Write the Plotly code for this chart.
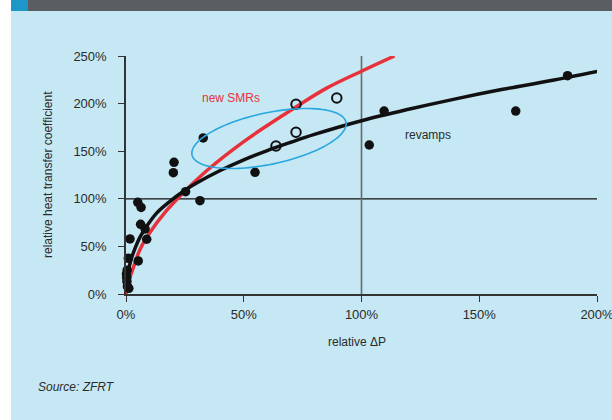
import plotly.graph_objects as go
import numpy as np

# ---- data ----
revamp_x = [0.5, 0.2, 0.3, 0.4, 0.6, 1.2, 1.0, 1.7, 5.2, 8.8, 8.1, 6.2, 5.0, 6.4, 25.3, 31.4,
            20.1, 20.4, 32.8, 54.8, 103.3, 109.6, 165.5, 187.5]
revamp_y = [25, 21, 17, 13, 8, 6, 37.5, 57.8, 34.7, 57.5, 68.3, 73.2, 96.3, 90.9, 107.5, 98,
            127.4, 138.3, 163.9, 127.8, 156.5, 192.2, 192.2, 229.3]
smr_x = [63.7, 72.2, 72.2, 89.5]
smr_y = [155.5, 169.9, 199.3, 205.9]
revamp_fit_x = [0, 0.5, 1, 2, 4, 6, 9, 13, 18, 25, 30, 40, 50, 60, 70, 80, 100, 120, 140, 160, 180, 200.4]
revamp_fit_y = [4, 15, 24, 35, 49, 60, 72, 85, 96, 109, 116.6, 129.7, 141, 150.7, 159.4, 167.6, 182, 194, 205, 215, 224, 234]
smr_fit_x = [0, 1, 3, 6, 10, 17, 25, 35, 50, 60, 72.5, 85, 100, 114]
smr_fit_y = [0, 12, 27, 47, 64, 87, 108, 131, 160, 177, 197, 216, 234, 250]
x_ticks = [0, 50, 100, 150, 200]
x_labels = ["0%", "50%", "100%", "150%", "200%"]
y_ticks = [0, 50, 100, 150, 200, 250]
y_labels = ["0%", "50%", "100%", "150%", "200%", "250%"]

# ---- geometry helpers ----
W, H = 612, 420
L, R, T, B = 126, 597, 56, 294
XR, YR = (0, 200), (0, 250)


def px2x(px):
    return XR[0] + (px - L) / (R - L) * (XR[1] - XR[0])


def py2y(py):
    return YR[0] + (B - py) / (B - T) * (YR[1] - YR[0])


def pxp(px):
    return (px - L) / (R - L)


def pyp(py):
    return (B - py) / (B - T)


FONT = "Liberation Sans, Arial, sans-serif"
TXT = "#2b2b2b"

fig = go.Figure()

fig.add_trace(go.Scatter(x=smr_fit_x, y=smr_fit_y, mode="lines", line=dict(color="#e8313a", width=3.5, shape="spline"),
                         cliponaxis=False, hoverinfo="skip"))
fig.add_trace(go.Scatter(x=revamp_fit_x, y=revamp_fit_y, mode="lines", line=dict(color="#111111", width=3.5, shape="spline"),
                         cliponaxis=False, hoverinfo="skip"))
fig.add_trace(go.Scatter(x=revamp_x, y=revamp_y, mode="markers",
                         marker=dict(color="#111111", size=9.5, line=dict(width=0)), cliponaxis=False))
fig.add_trace(go.Scatter(x=smr_x, y=smr_y, mode="markers",
                         marker=dict(color="rgba(0,0,0,0)", size=9.5, line=dict(color="#111111", width=2)), cliponaxis=False))

# ellipse (pixel space)
cx, cy, ea, eb, ang = 269, 138.5, 78.7, 25.7, np.deg2rad(12)
t = np.linspace(0, 2 * np.pi, 120)
ex = cx + ea * np.cos(t) * np.cos(ang) + eb * np.sin(t) * np.sin(ang)
ey = cy - ea * np.cos(t) * np.sin(ang) + eb * np.sin(t) * np.cos(ang)
path = "M " + " L ".join(f"{px2x(a):.3f},{py2y(b):.3f}" for a, b in zip(ex, ey)) + " Z"

shapes = [
    # white strip at left
    dict(type="rect", xref="paper", yref="paper", x0=pxp(0), x1=pxp(11), y0=pyp(H), y1=pyp(0),
         fillcolor="white", line=dict(width=0), layer="below"),
    # header bar
    dict(type="rect", xref="paper", yref="paper", x0=pxp(11), x1=pxp(W), y0=pyp(11), y1=pyp(0),
         fillcolor="#5a5e62", line=dict(width=0), layer="below"),
    dict(type="rect", xref="paper", yref="paper", x0=pxp(11), x1=pxp(28), y0=pyp(11), y1=pyp(0),
         fillcolor="#1c97c8", line=dict(width=0), layer="below"),
    # reference lines
    dict(type="line", xref="x", yref="y", x0=0, x1=px2x(599), y0=100, y1=100,
         line=dict(color="#111111", width=1.2), layer="below"),
    dict(type="line", xref="x", yref="y", x0=100, x1=100, y0=0, y1=250,
         line=dict(color="#6a6a6a", width=1.6), layer="below"),
    dict(type="path", xref="x", yref="y", path=path, line=dict(color="#2aa7df", width=1.6)),
]

annotations = [
    dict(text="new SMRs", x=px2x(231), y=py2y(98), xref="x", yref="y", showarrow=False,
         font=dict(family=FONT, size=12, color="#e8313a")),
    dict(text="revamps", x=px2x(428), y=py2y(135), xref="x", yref="y", showarrow=False,
         font=dict(family=FONT, size=12, color=TXT)),
    dict(text="relative ΔP", x=pxp(357), y=pyp(342), xref="paper", yref="paper", showarrow=False,
         xanchor="center", yanchor="middle", font=dict(family=FONT, size=12, color=TXT)),
    dict(text="relative heat transfer coefficient", x=pxp(48), y=pyp(175), xref="paper", yref="paper",
         showarrow=False, textangle=-90, xanchor="center", yanchor="middle",
         font=dict(family=FONT, size=12, color=TXT)),
    dict(text="<i>Source: ZFRT</i>", x=pxp(36), y=pyp(387), xref="paper", yref="paper", showarrow=False,
         xanchor="left", yanchor="middle", font=dict(family=FONT, size=12, color=TXT)),
]

axis_common = dict(showgrid=False, zeroline=False, showline=True, linecolor="#333333", linewidth=1.5,
                   ticks="outside", ticklen=6, tickwidth=1.3, tickcolor="#333333",
                   ticklabeloverflow="allow", automargin=False,
                   tickfont=dict(family=FONT, size=13, color=TXT))

fig.update_layout(
    width=W, height=H,
    margin=dict(l=L, r=W - R, t=T, b=H - B, pad=0, autoexpand=False),
    paper_bgcolor="#c5e8f4", plot_bgcolor="rgba(0,0,0,0)",
    showlegend=False,
    xaxis=dict(range=list(XR), tickmode="array", tickvals=x_ticks, ticktext=x_labels,
               ticklabelstandoff=2, **axis_common),
    yaxis=dict(range=list(YR), tickmode="array", tickvals=y_ticks, ticktext=y_labels,
               ticklabelstandoff=9, **axis_common),
    shapes=shapes, annotations=annotations,
)

fig.write_html("out.html", config={"displayModeBar": False},
               post_script="document.body.style.margin='0';document.body.style.padding='0';document.body.style.overflow='hidden';")
